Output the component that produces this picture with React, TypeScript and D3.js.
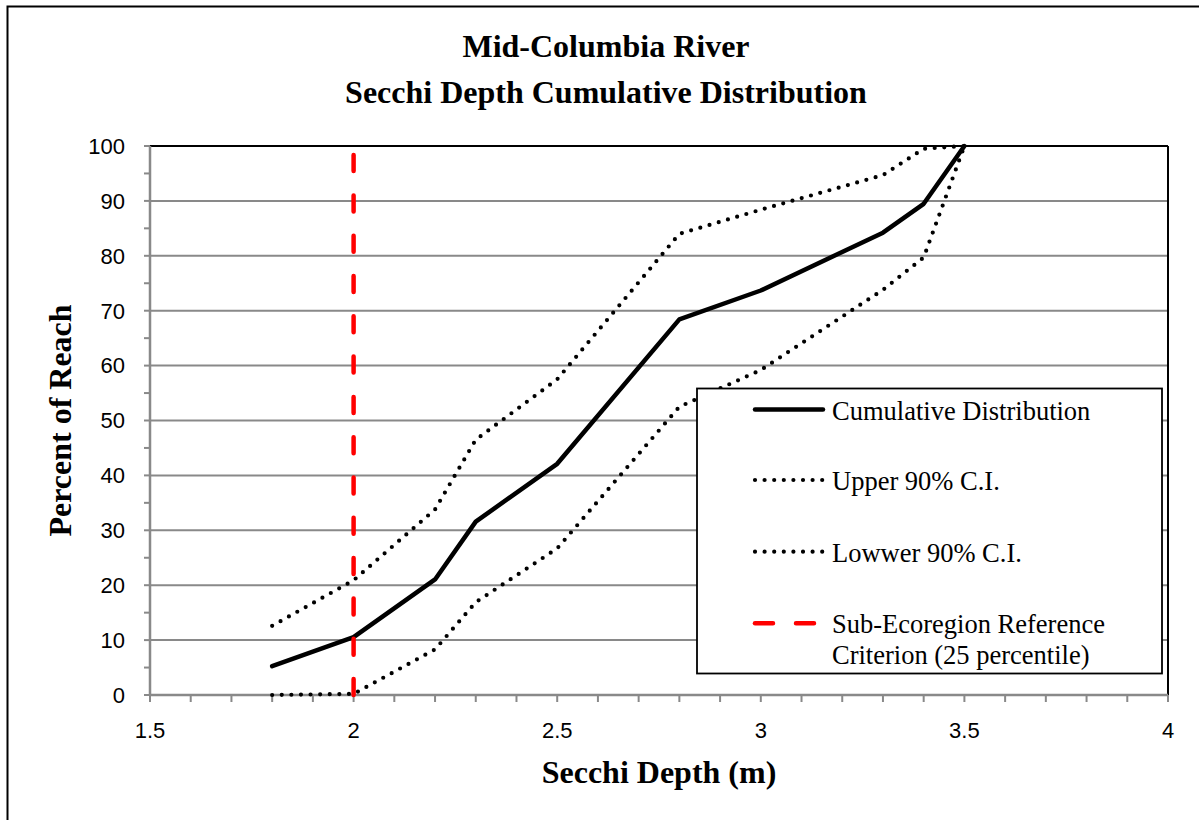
import React from "react";
import * as d3 from "d3";

const depths = [1.8, 2.0, 2.2, 2.3, 2.5, 2.8, 3.0, 3.3, 3.4, 3.5];
const cumulative = [5.26, 10.53, 21.05, 31.58, 42.11, 68.42, 73.68, 84.21, 89.47, 100];
const upperCI = [12.6, 20.9, 33.8, 46.5, 57.5, 84.0, 88.4, 94.7, 99.5, 100];
const lowerCI = [0, 0.2, 8.3, 16.9, 26.7, 52.5, 59.2, 73.8, 79.7, 100];
const referenceDepth = 2.0;
const xTickLabels = [1.5, 2, 2.5, 3, 3.5, 4];
const yTickLabels = [0, 10, 20, 30, 40, 50, 60, 70, 80, 90, 100];
const titleLines = ["Mid-Columbia River", "Secchi Depth Cumulative Distribution"];
const legendLabels = ["Cumulative Distribution", "Upper 90% C.I.", "Lowwer 90% C.I.", "Sub-Ecoregion Reference", "Criterion (25 percentile)"];

const W = 1199;
const H = 820;
const L = 150, R = 1168, T = 146, B = 695;

export default function App() {
  const x = d3.scaleLinear().domain([1.5, 4]).range([L, R]);
  const y = d3.scaleLinear().domain([0, 100]).range([B, T]);
  const line = d3.line<[number, number]>().x(d => x(d[0])).y(d => y(d[1]));
  const pts = (vals: number[]) => depths.map((d, i) => [d, vals[i]] as [number, number]);

  const minorX = d3.range(0, 26).map(i => 1.5 + i * 0.1);
  const minorY = d3.range(0, 21).map(i => i * 5);
  const grid = yTickLabels.filter(v => v > 0 && v < 100);

  const serif = "'Liberation Serif', 'Times New Roman', serif";
  const sans = "'Liberation Sans', Arial, sans-serif";
  const gray = "#898989";
  const dotW = 4.2;

  const lgX1 = 755, lgX2 = 823, lgText = 832;

  return (
    <svg width={W} height={H} style={{ position: "absolute", left: 0, top: 0, background: "#fff" }}>
      <rect x={0} y={0} width={W} height={H} fill="#fff" />
      {/* outer chart border */}
      <rect x={7.5} y={6.5} width={1260} height={900} fill="none" stroke="#000" strokeWidth={2} />

      {/* title */}
      <text x={606} y={57} textAnchor="middle" fontFamily={serif} fontWeight="bold" fontSize={32}>{titleLines[0]}</text>
      <text x={606} y={103} textAnchor="middle" fontFamily={serif} fontWeight="bold" fontSize={32}>{titleLines[1]}</text>

      {/* gridlines */}
      {grid.map(v => (
        <line key={"g" + v} x1={L} x2={R} y1={y(v)} y2={y(v)} stroke={gray} strokeWidth={2} />
      ))}
      {/* plot border top/right */}
      <line x1={L} x2={R} y1={y(100)} y2={y(100)} stroke="#000" strokeWidth={2} />
      <line x1={R} x2={R} y1={y(100)} y2={y(0)} stroke="#000" strokeWidth={2} />

      {/* y axis */}
      <line x1={L} x2={L} y1={y(100)} y2={y(0)} stroke={gray} strokeWidth={2.5} />
      {minorY.map(v => (
        <line key={"yt" + v} x1={L - 6} x2={L} y1={y(v)} y2={y(v)} stroke={gray} strokeWidth={2} />
      ))}
      {yTickLabels.map(v => (
        <text key={"yl" + v} x={125} y={y(v) + 7.8} textAnchor="end" fontFamily={sans} fontSize={22}>{v}</text>
      ))}

      {/* x axis */}
      <line x1={L} x2={R} y1={y(0)} y2={y(0)} stroke={gray} strokeWidth={2.5} />
      {minorX.map((v, i) => (
        <line key={"xt" + i} x1={x(v)} x2={x(v)} y1={y(0)} y2={y(0) + 7} stroke={gray} strokeWidth={2} />
      ))}
      {xTickLabels.map(v => (
        <text key={"xl" + v} x={x(v)} y={738} textAnchor="middle" fontFamily={sans} fontSize={22}>{v}</text>
      ))}

      {/* axis titles */}
      <text x={(L + R) / 2} y={783} textAnchor="middle" fontFamily={serif} fontWeight="bold" fontSize={32}>Secchi Depth (m)</text>
      <text transform={`translate(71, ${(T + B) / 2}) rotate(-90)`} textAnchor="middle" fontFamily={serif} fontWeight="bold" fontSize={32}>Percent of Reach</text>

      {/* series */}
      <path d={line(pts(upperCI)) || ""} fill="none" stroke="#000" strokeWidth={dotW} strokeDasharray="0 9.6" strokeLinecap="round" />
      <path d={line(pts(lowerCI)) || ""} fill="none" stroke="#000" strokeWidth={dotW} strokeDasharray="0 9.6" strokeLinecap="round" />
      <path d={line(pts(cumulative)) || ""} fill="none" stroke="#000" strokeWidth={4.5} strokeLinecap="round" strokeLinejoin="round" />
      <line x1={x(referenceDepth)} x2={x(referenceDepth)} y1={y(0)} y2={y(100)} stroke="#ff0000" strokeWidth={4.5} strokeDasharray="16 24.3" strokeLinecap="round" />

      {/* legend */}
      <rect x={697} y={388.5} width={465} height={285} fill="#fff" stroke="#000" strokeWidth={1.8} />
      <line x1={lgX1} x2={lgX2} y1={409.5} y2={409.5} stroke="#000" strokeWidth={4.5} strokeLinecap="round" />
      <text x={lgText} y={419.5} fontFamily={serif} fontSize={26.5}>{legendLabels[0]}</text>
      <line x1={lgX1} x2={lgX2} y1={480} y2={480} stroke="#000" strokeWidth={dotW} strokeDasharray="0 9.6" strokeLinecap="round" />
      <text x={lgText} y={489.5} fontFamily={serif} fontSize={26.5}>{legendLabels[1]}</text>
      <line x1={lgX1} x2={lgX2} y1={551.7} y2={551.7} stroke="#000" strokeWidth={dotW} strokeDasharray="0 9.6" strokeLinecap="round" />
      <text x={lgText} y={561.5} fontFamily={serif} fontSize={26.5}>{legendLabels[2]}</text>
      <line x1={755} x2={815} y1={623.3} y2={623.3} stroke="#ff0000" strokeWidth={4.5} strokeDasharray="18 23" strokeLinecap="round" />
      <text x={lgText} y={632.5} fontFamily={serif} fontSize={26.5}>{legendLabels[3]}</text>
      <text x={lgText} y={663.5} fontFamily={serif} fontSize={26.5}>{legendLabels[4]}</text>
    </svg>
  );
}
